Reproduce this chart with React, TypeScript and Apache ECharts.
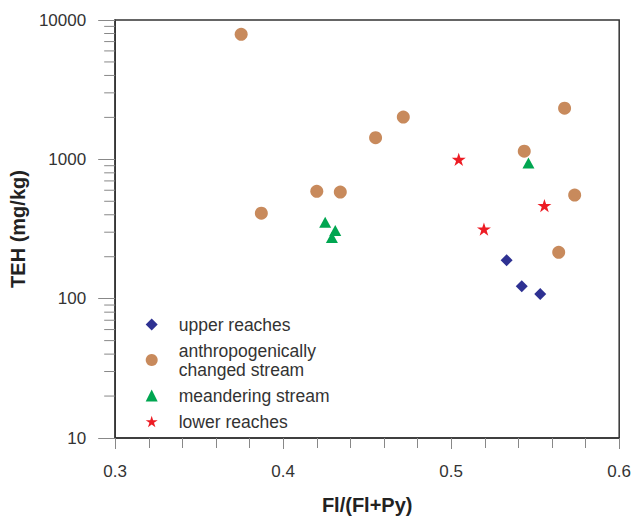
import React, { useEffect, useRef } from "react";
import * as echarts from "echarts";

const upperX = [0.533, 0.542, 0.553];
const upperY = [189, 123, 108];
const anthroX = [0.375, 0.387, 0.42, 0.434, 0.455, 0.4715, 0.5435, 0.5675, 0.5735, 0.564];
const anthroY = [7900, 411, 589, 582, 1430, 2010, 1145, 2330, 554, 215];
const meanderX = [0.546, 0.425, 0.431, 0.429];
const meanderY = [942, 353, 309, 275];
const lowerX = [0.5045, 0.5195, 0.5555];
const lowerY = [1000, 316, 466];

const seriesNames = [
  "upper reaches",
  "anthropogenically changed stream",
  "meandering stream",
  "lower reaches",
];
const xTicks = ["0.3", "0.4", "0.5", "0.6"];
const yMinorTicks = [20, 30, 40, 50, 60, 70, 80, 90, 200, 300, 400, 500, 600, 700, 800, 900, 2000, 3000, 4000, 5000, 6000, 7000, 8000, 9000];

const STAR =
  "path://M100 0 L122.45 69.1 L195.1 69.1 L136.3 111.8 L158.8 180.9 L100 138.2 L41.2 180.9 L63.7 111.8 L4.9 69.1 L77.55 69.1 Z";

const FONT = "'Liberation Sans', Arial, sans-serif";

function pairs(xs: number[], ys: number[]) {
  return xs.map((x, i) => [x, ys[i]]);
}

export default function App() {
  const ref = useRef<HTMLDivElement>(null);
  useEffect(() => {
    if (!ref.current) return;
    const chart = echarts.init(ref.current, undefined, { renderer: "svg" });
    chart.setOption({
      animation: false,
      backgroundColor: "#ffffff",
      grid: {
        left: 114,
        right: 14,
        top: 20,
        bottom: 78,
        show: true,
        borderColor: "#333",
        borderWidth: 1.5,
      },
      legend: {
        data: seriesNames,
        orient: "vertical",
        left: 145.7,
        top: 315,
        padding: 0,
        itemGap: 7,
        itemWidth: 12,
        itemHeight: 12,
        formatter: (n: string) => n.replace("anthropogenically ", "anthropogenically\n"),
        textStyle: {
          fontFamily: FONT,
          fontSize: 17.5,
          lineHeight: 19,
          color: "#333",
          padding: [0, 0, 0, 16],
        },
      },
      xAxis: {
        type: "value",
        min: 0.3,
        max: 0.6,
        interval: 0.1,
        name: "Fl/(Fl+Py)",
        nameLocation: "middle",
        nameGap: 57,
        nameTextStyle: { fontFamily: FONT, fontSize: 20, fontWeight: "bold", color: "#222" },
        axisLine: { show: true, lineStyle: { color: "#333", width: 1.5 } },
        axisTick: { show: true, inside: false, length: 11, lineStyle: { color: "#888" } },
        minorTick: { show: true, splitNumber: 5, length: 10, lineStyle: { color: "#888" } },
        splitLine: { show: false },
        axisLabel: {
          margin: 24.5,
          fontFamily: FONT,
          fontSize: 17,
          color: "#333",
          formatter: (v: number) => {
            const s = v.toFixed(1);
            return xTicks.includes(s) ? s : "";
          },
        },
      },
      yAxis: {
        type: "log",
        logBase: 10,
        min: 10,
        max: 10000,
        name: "TEH (mg/kg)",
        nameLocation: "middle",
        nameGap: 81,
        nameTextStyle: { fontFamily: FONT, fontSize: 20, fontWeight: "bold", color: "#222" },
        axisLine: { show: true, lineStyle: { color: "#333", width: 1.5 } },
        axisTick: { show: true, inside: false, length: 17, lineStyle: { color: "#888" } },
        splitLine: { show: false },
        axisLabel: {
          margin: 29,
          fontFamily: FONT,
          fontSize: 17,
          color: "#333",
          formatter: (v: number) => String(Math.round(v)),
        },
      },
      series: [
        {
          type: "custom",
          name: "minor",
          silent: true,
          clip: false,
          data: yMinorTicks.map((v) => [0.3, v]),
          renderItem: (_p: any, api: any) => {
            const c = api.coord([api.value(0), api.value(1)]);
            return {
              type: "line",
              shape: { x1: c[0] - 11, y1: c[1], x2: c[0], y2: c[1] },
              style: { stroke: "#888", lineWidth: 1 },
            };
          },
        },
        {
          type: "scatter",
          name: seriesNames[0],
          symbol: "diamond",
          symbolSize: 12,
          itemStyle: { color: "#2e3192", opacity: 1 },
          data: pairs(upperX, upperY),
        },
        {
          type: "scatter",
          name: seriesNames[1],
          symbol: "circle",
          symbolSize: 13,
          itemStyle: { color: "#c88a5c", opacity: 1 },
          data: pairs(anthroX, anthroY),
        },
        {
          type: "scatter",
          name: seriesNames[2],
          symbol: "triangle",
          symbolSize: [12, 11],
          itemStyle: { color: "#00a651", opacity: 1 },
          data: pairs(meanderX, meanderY),
        },
        {
          type: "scatter",
          name: seriesNames[3],
          symbol: STAR,
          symbolKeepAspect: true,
          symbolSize: 14,
          itemStyle: { color: "#ed1c24", opacity: 1 },
          data: pairs(lowerX, lowerY),
        },
      ],
    });
    return () => chart.dispose();
  }, []);
  return (
    <div
      ref={ref}
      style={{ position: "fixed", left: 0, top: 0, width: 634, height: 520, background: "#fff" }}
    />
  );
}
